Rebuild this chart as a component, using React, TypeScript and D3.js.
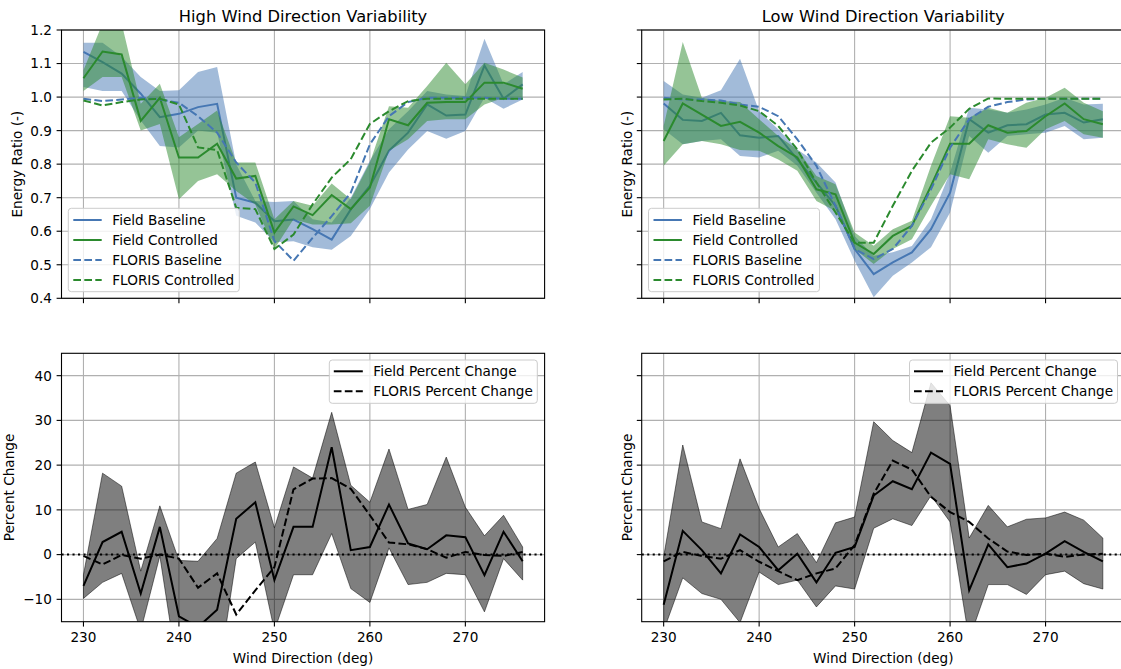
import * as d3 from "d3";

// wind direction bins (deg)
const directions = [230, 232, 234, 236, 238, 240, 242, 244, 246, 248, 250, 252, 254, 256, 258, 260, 262, 264, 266, 268, 270, 272, 274, 276];

// high wind direction variability - energy ratios
const hiBaseField = [1.135, 1.104, 1.07, 1.01, 0.94, 0.95, 0.97, 0.98, 0.70, 0.685, 0.63, 0.635, 0.606, 0.575, 0.665, 0.735, 0.84, 0.894, 0.978, 0.945, 0.948, 1.094, 0.995, 1.038];
const hiBaseLo = [1.03, 1.018, 1.018, 0.93, 0.854, 0.85, 0.90, 0.894, 0.646, 0.626, 0.567, 0.57, 0.552, 0.545, 0.586, 0.666, 0.775, 0.844, 0.899, 0.876, 0.899, 0.998, 0.965, 0.993];
const hiBaseHi = [1.162, 1.162, 1.12, 1.06, 1.018, 1.02, 1.075, 1.09, 0.80, 0.69, 0.687, 0.69, 0.636, 0.626, 0.70, 0.81, 0.904, 0.958, 1.018, 1.008, 1.003, 1.174, 1.038, 1.075];
const hiCtrlField = [1.056, 1.136, 1.127, 0.929, 0.998, 0.82, 0.82, 0.861, 0.757, 0.765, 0.596, 0.674, 0.648, 0.708, 0.666, 0.73, 0.934, 0.916, 0.983, 0.985, 0.985, 1.043, 1.043, 1.025];
const hiCtrlLo = [1.018, 1.06, 1.06, 0.90, 0.92, 0.695, 0.75, 0.77, 0.72, 0.68, 0.547, 0.636, 0.62, 0.62, 0.624, 0.676, 0.84, 0.874, 0.929, 0.934, 0.934, 0.978, 0.998, 0.998];
const hiCtrlHi = [1.08, 1.22, 1.22, 0.98, 1.04, 0.88, 0.92, 0.96, 0.805, 0.805, 0.636, 0.69, 0.676, 0.742, 0.695, 0.805, 0.973, 0.968, 1.033, 1.102, 1.038, 1.102, 1.082, 1.058];
const hiBaseFloris = [0.995, 0.988, 0.993, 0.998, 0.993, 0.983, 0.943, 0.894, 0.805, 0.745, 0.571, 0.512, 0.58, 0.645, 0.715, 0.859, 0.943, 0.985, 0.998, 0.998, 0.998, 0.998, 0.995, 0.995];
const hiCtrlFloris = [0.99, 0.975, 0.985, 0.993, 0.995, 0.978, 0.85, 0.842, 0.67, 0.666, 0.547, 0.59, 0.68, 0.76, 0.815, 0.92, 0.958, 0.988, 0.995, 0.995, 0.995, 0.995, 0.995, 0.995];

// low wind direction variability - energy ratios
const loBaseField = [0.981, 0.932, 0.929, 0.953, 0.886, 0.879, 0.884, 0.814, 0.745, 0.676, 0.547, 0.472, 0.507, 0.537, 0.606, 0.715, 0.934, 0.894, 0.916, 0.919, 0.948, 0.953, 0.924, 0.934];
const loBaseLo = [0.904, 0.859, 0.869, 0.874, 0.824, 0.82, 0.84, 0.795, 0.715, 0.636, 0.512, 0.403, 0.467, 0.507, 0.552, 0.656, 0.884, 0.834, 0.884, 0.889, 0.894, 0.914, 0.874, 0.879];
const loBaseHi = [1.048, 1.008, 0.998, 1.02, 1.114, 0.958, 0.904, 0.844, 0.805, 0.745, 0.586, 0.527, 0.537, 0.556, 0.636, 0.775, 0.968, 0.963, 0.953, 0.963, 0.978, 0.998, 0.978, 0.98];
const loCtrlField = [0.869, 0.981, 0.948, 0.914, 0.926, 0.894, 0.854, 0.82, 0.725, 0.71, 0.566, 0.532, 0.586, 0.616, 0.735, 0.861, 0.861, 0.916, 0.894, 0.899, 0.943, 0.981, 0.934, 0.919];
const loCtrlLo = [0.795, 0.859, 0.869, 0.859, 0.842, 0.84, 0.814, 0.78, 0.69, 0.66, 0.547, 0.502, 0.547, 0.576, 0.676, 0.77, 0.755, 0.874, 0.859, 0.849, 0.904, 0.929, 0.889, 0.879];
const loCtrlHi = [0.914, 1.164, 0.998, 0.988, 0.985, 0.934, 0.884, 0.844, 0.765, 0.74, 0.596, 0.557, 0.606, 0.631, 0.795, 0.943, 0.938, 0.968, 0.953, 0.983, 0.998, 1.028, 0.983, 0.958];
const loBaseFloris = [0.998, 0.993, 0.993, 0.99, 0.978, 0.971, 0.943, 0.874, 0.795, 0.676, 0.547, 0.517, 0.547, 0.616, 0.725, 0.849, 0.934, 0.971, 0.985, 0.993, 0.995, 0.995, 0.995, 0.995];
const loCtrlFloris = [0.993, 0.995, 0.988, 0.983, 0.975, 0.958, 0.914, 0.844, 0.745, 0.656, 0.566, 0.566, 0.676, 0.78, 0.864, 0.909, 0.965, 0.996, 0.995, 0.995, 0.995, 0.995, 0.995, 0.995];

// percent change (controlled vs baseline)
const hiPct = [-7.0, 2.8, 5.1, -8.7, 6.2, -13.8, -16.2, -12.3, 8.0, 11.7, -5.7, 6.2, 6.2, 24.0, 1.0, 1.7, 11.2, 2.5, 1.2, 4.3, 3.9, -4.6, 5.1, -1.5];
const hiPctLo = [-9.8, -6.2, -4.2, -17, -0.3, -28, -28, -29, -0.9, 2.8, -17, -4.5, -4.5, 4.7, -7.6, -10.7, 1.5, -6.7, -6.2, -4.2, -4.5, -12.8, -0.9, -5.7];
const hiPctHi = [-4.5, 18.2, 15.3, -3.7, 10.9, -1.3, -1.5, 3.6, 18.2, 20.7, 6.0, 19.6, 17.1, 31.8, 15.5, 11.7, 23.6, 10.1, 11.2, 21.8, 10.6, 4.2, 8.8, 1.7];
const hiPctFloris = [-0.3, -2.2, -0.1, -0.9, 0, -0.9, -7.4, -4.2, -13.4, -8.0, -2.8, 14.6, 17.0, 17.1, 14.7, 8.8, 2.7, 2.3, 1.2, -0.7, 0.6, -0.1, -0.3, 0.6];

const loPct = [-11.2, 5.3, 1.0, -4.2, 4.5, 1.7, -3.5, 0.2, -6.2, 0.4, 1.7, 13.2, 16.4, 14.6, 22.8, 20.3, -8.0, 2.3, -2.8, -2.0, 0.2, 3.0, 0.6, -1.5];
const loPctLo = [-17, -5.2, -8.7, -10.0, -15.2, -3.9, -6.7, -5.7, -11.7, -7.0, -7.7, 5.9, 8.0, 6.5, 13.2, 7.3, -19, -6.7, -6.7, -8.9, -4.5, -3.7, -6.5, -7.7];
const loPctHi = [-0.5, 24.5, 7.3, 5.8, 21.4, 10.3, 1.7, 4.7, -1.8, 7.1, 8.4, 29.7, 25.5, 22.8, 38.4, 33.3, 3.7, 11.0, 6.2, 7.9, 8.2, 9.5, 7.7, 3.7];
const loPctFloris = [-1.5, 0.6, -0.3, -0.9, 1.0, -1.6, -3.7, -5.7, -4.2, -3.1, 2.1, 13.6, 21.0, 19.0, 12.9, 9.5, 7.3, 3.6, 0.7, -0.1, 0.2, -0.5, 0, 0.2];

// ticks
const xTicks = [230, 240, 250, 260, 270];
const ratioTicks = [0.4, 0.5, 0.6, 0.7, 0.8, 0.9, 1.0, 1.1, 1.2];
const pctTicks = [-10, 0, 10, 20, 30, 40];

const energyLegend = ["Field Baseline", "Field Controlled", "FLORIS Baseline", "FLORIS Controlled"];
const pctLegend = ["Field Percent Change", "FLORIS Percent Change"];

const FONT = "DejaVu Sans, sans-serif";
const FS = 13.6;
const BLUE = "#4677b3";
const GREEN = "#2b8a2e";
const DASH = "7.7,3.3";
const DOT = "2.1,3.4";
const GRID = "#b0b0b0";

const xDomain = [227.7, 278.3];
const left = { x0: 61.5, x1: 544.6 };
const right = { x0: 641.7, x1: 1124.8 };
const top = { y0: 30, y1: 298.3 };
const bottom = { y0: 353.3, y1: 621.7 };

type Box = { x0: number; x1: number; y0: number; y1: number };

function Panel({ id, box, yDomain, yTicks, yFmt, yLabels, xLabels, title, ylabel, ylabelX, draw }: any) {
  const x = d3.scaleLinear().domain(xDomain).range([box.x0, box.x1]);
  const y = d3.scaleLinear().domain(yDomain).range([box.y1, box.y0]);
  const w = box.x1 - box.x0;
  const h = box.y1 - box.y0;
  return (
    <g fontFamily={FONT}>
      <defs>
        <clipPath id={id}>
          <rect x={box.x0} y={box.y0} width={w} height={h} />
        </clipPath>
      </defs>
      {xTicks.map((t) => (
        <line key={"gx" + t} x1={x(t)} x2={x(t)} y1={box.y0} y2={box.y1} stroke={GRID} strokeWidth={1.1} />
      ))}
      {yTicks.map((t: number) => (
        <line key={"gy" + t} x1={box.x0} x2={box.x1} y1={y(t)} y2={y(t)} stroke={GRID} strokeWidth={1.1} />
      ))}
      <g clipPath={`url(#${id})`}>{draw(x, y)}</g>
      <rect x={box.x0} y={box.y0} width={w} height={h} fill="none" stroke="#000" strokeWidth={1.1} />
      {xTicks.map((t) => (
        <g key={"tx" + t}>
          <line x1={x(t)} x2={x(t)} y1={box.y1} y2={box.y1 + 4.9} stroke="#000" strokeWidth={1.1} />
          {xLabels && (
            <text x={x(t)} y={box.y1 + 19.8} textAnchor="middle" fontSize={FS} fill="#000">
              {t}
            </text>
          )}
        </g>
      ))}
      {yTicks.map((t: number) => (
        <g key={"ty" + t}>
          <line x1={box.x0 - 4.9} x2={box.x0} y1={y(t)} y2={y(t)} stroke="#000" strokeWidth={1.1} />
          {yLabels && (
            <text x={box.x0 - 9.6} y={y(t)} dy="0.36em" textAnchor="end" fontSize={FS} fill="#000">
              {yFmt(t)}
            </text>
          )}
        </g>
      ))}
      {title && (
        <text x={(box.x0 + box.x1) / 2} y={box.y0 - 8} textAnchor="middle" fontSize={16.3} fill="#000">
          {title}
        </text>
      )}
      {xLabels && (
        <text x={(box.x0 + box.x1) / 2} y={box.y1 + 41.5} textAnchor="middle" fontSize={FS} fill="#000">
          Wind Direction (deg)
        </text>
      )}
      <text
        transform={`translate(${ylabelX},${(box.y0 + box.y1) / 2}) rotate(-90)`}
        textAnchor="middle"
        fontSize={FS}
        fill="#000"
      >
        {ylabel}
      </text>
    </g>
  );
}

function energyDraw(base: number[], baseLo: number[], baseHi: number[], ctrl: number[], ctrlLo: number[], ctrlHi: number[], baseF: number[], ctrlF: number[]) {
  return (x: any, y: any) => {
    const band = (lo: number[], hi: number[]) =>
      d3.area<number>().x((d) => x(d)).y0((_, i) => y(lo[i])).y1((_, i) => y(hi[i]))(directions) as string;
    const line = (v: number[]) => d3.line<number>().x((_, i) => x(directions[i])).y((d) => y(d))(v) as string;
    return (
      <g>
        <path d={band(baseLo, baseHi)} fill={BLUE} fillOpacity={0.5} />
        <path d={line(base)} fill="none" stroke={BLUE} strokeWidth={2} />
        <path d={band(ctrlLo, ctrlHi)} fill={GREEN} fillOpacity={0.5} />
        <path d={line(ctrl)} fill="none" stroke={GREEN} strokeWidth={2} />
        <path d={line(baseF)} fill="none" stroke={BLUE} strokeWidth={2} strokeDasharray={DASH} />
        <path d={line(ctrlF)} fill="none" stroke={GREEN} strokeWidth={2} strokeDasharray={DASH} />
      </g>
    );
  };
}

function pctDraw(pct: number[], lo: number[], hi: number[], floris: number[]) {
  return (x: any, y: any) => {
    const band = d3.area<number>().x((d) => x(d)).y0((_, i) => y(lo[i])).y1((_, i) => y(hi[i]))(directions) as string;
    const line = (v: number[]) => d3.line<number>().x((_, i) => x(directions[i])).y((d) => y(d))(v) as string;
    return (
      <g>
        <path d={band} fill="#000" fillOpacity={0.5} stroke="#000" strokeOpacity={0.5} strokeWidth={1} />
        <path d={line(pct)} fill="none" stroke="#000" strokeWidth={2} />
        <path d={line(floris)} fill="none" stroke="#000" strokeWidth={2} strokeDasharray={DASH} />
        <line x1={x(xDomain[0])} x2={x(xDomain[1])} y1={y(0)} y2={y(0)} stroke="#000" strokeWidth={2} strokeDasharray={DOT} />
      </g>
    );
  };
}

function EnergyLegend({ box }: { box: Box }) {
  const lx = box.x0 + 6.8;
  const w = 171;
  const h = 83.4;
  const ty = box.y1 - 6.6 - h;
  const styles = [
    { c: BLUE, d: undefined },
    { c: GREEN, d: undefined },
    { c: BLUE, d: DASH },
    { c: GREEN, d: DASH },
  ];
  return (
    <g fontFamily={FONT}>
      <rect x={lx} y={ty} width={w} height={h} rx={3} fill="#fff" fillOpacity={0.8} stroke="#cccccc" strokeWidth={1} />
      {energyLegend.map((name, i) => {
        const cy = ty + 11.7 + i * 20;
        return (
          <g key={name}>
            <line x1={lx + 5} x2={lx + 33.4} y1={cy} y2={cy} stroke={styles[i].c} strokeWidth={2} strokeDasharray={styles[i].d} />
            <text x={lx + 44} y={cy} dy="0.36em" fontSize={FS} fill="#000">
              {name}
            </text>
          </g>
        );
      })}
    </g>
  );
}

function PctLegend({ box }: { box: Box }) {
  const w = 208;
  const h = 43.3;
  const lx = box.x1 - 7.3 - w;
  const ty = box.y0 + 6.7;
  return (
    <g fontFamily={FONT}>
      <rect x={lx} y={ty} width={w} height={h} rx={3} fill="#fff" fillOpacity={0.8} stroke="#cccccc" strokeWidth={1} />
      {pctLegend.map((name, i) => {
        const cy = ty + 11.3 + i * 20;
        return (
          <g key={name}>
            <line x1={lx + 4.5} x2={lx + 33.5} y1={cy} y2={cy} stroke="#000" strokeWidth={2} strokeDasharray={i === 1 ? DASH : undefined} />
            <text x={lx + 44} y={cy} dy="0.36em" fontSize={FS} fill="#000">
              {name}
            </text>
          </g>
        );
      })}
    </g>
  );
}

export default function App() {
  const tl = { ...left, ...top };
  const tr = { ...right, ...top };
  const bl = { ...left, ...bottom };
  const br = { ...right, ...bottom };
  const ratioFmt = d3.format(".1f");
  const pctFmt = (t: number) => (t < 0 ? "\u2212" + Math.abs(t) : String(t));
  return (
    <svg width={1121} height={669} style={{ position: "absolute", left: 0, top: 0, background: "#fff" }}>
      <Panel
        id="clip-tl"
        box={tl}
        yDomain={[0.4, 1.2]}
        yTicks={ratioTicks}
        yFmt={ratioFmt}
        yLabels={true}
        xLabels={false}
        title="High Wind Direction Variability"
        ylabel="Energy Ratio (-)"
        ylabelX={22.4}
        draw={energyDraw(hiBaseField, hiBaseLo, hiBaseHi, hiCtrlField, hiCtrlLo, hiCtrlHi, hiBaseFloris, hiCtrlFloris)}
      />
      <EnergyLegend box={tl} />
      <Panel
        id="clip-tr"
        box={tr}
        yDomain={[0.4, 1.2]}
        yTicks={ratioTicks}
        yFmt={ratioFmt}
        yLabels={false}
        xLabels={false}
        title="Low Wind Direction Variability"
        ylabel="Energy Ratio (-)"
        ylabelX={632.4}
        draw={energyDraw(loBaseField, loBaseLo, loBaseHi, loCtrlField, loCtrlLo, loCtrlHi, loBaseFloris, loCtrlFloris)}
      />
      <EnergyLegend box={tr} />
      <Panel
        id="clip-bl"
        box={bl}
        yDomain={[-15, 45]}
        yTicks={pctTicks}
        yFmt={pctFmt}
        yLabels={true}
        xLabels={true}
        ylabel="Percent Change"
        ylabelX={14.4}
        draw={pctDraw(hiPct, hiPctLo, hiPctHi, hiPctFloris)}
      />
      <PctLegend box={bl} />
      <Panel
        id="clip-br"
        box={br}
        yDomain={[-15, 45]}
        yTicks={pctTicks}
        yFmt={pctFmt}
        yLabels={false}
        xLabels={true}
        ylabel="Percent Change"
        ylabelX={632.4}
        draw={pctDraw(loPct, loPctLo, loPctHi, loPctFloris)}
      />
      <PctLegend box={br} />
    </svg>
  );
}
